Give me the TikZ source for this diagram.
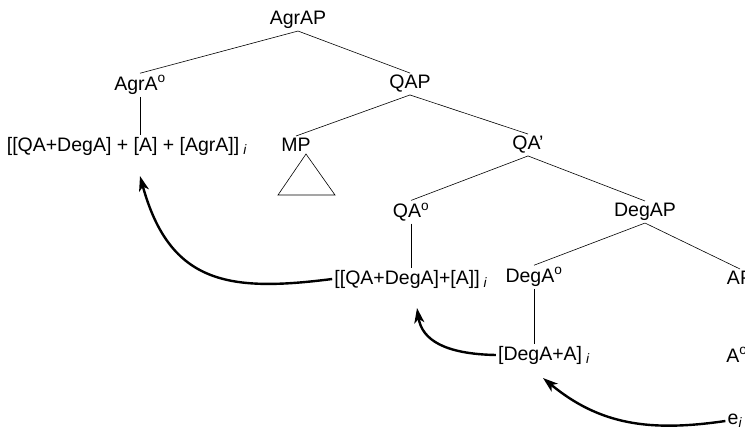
\documentclass[tikz,border=0pt]{standalone}
\usepackage{fontspec}
\setmainfont{Liberation Sans}
\usetikzlibrary{arrows.meta}

\newcommand{\hd}{\textsuperscript{o}}
\newcommand{\idx}{\hspace{4pt}\textsubscript{\textit{i}}}

\begin{document}
\begin{tikzpicture}[x=1pt,y=-1pt,line width=0.6pt,
                    every node/.style={inner sep=2pt,font=\fontsize{19.5}{23}\selectfont},
                    mv/.style={line width=2.4pt,-{Stealth[length=15pt,width=10pt,inset=4pt]}}]
  \clip (0,0) rectangle (745,432);
  % tree
  \node (AgrAP) at (298,20)  {AgrAP};
  \node (AgrA0) at (140,85)  {AgrA\hd};
  \node (QAP)   at (410,84)  {QAP};
  \node (lbl1)  at (127,146) {[[QA+DegA] + [A] + [AgrA]]\idx};
  \node (MP)    at (296,145) {MP};
  \node (QA1)   at (528,145) {QA’};
  \node (QA0)   at (411,212) {QA\hd};
  \node (DegAP) at (645,212) {DegAP};
  \node (lbl2)  at (411,279) {[[QA+DegA]+[A]]\idx};
  \node (DegA0) at (534,277) {DegA\hd};
  \node (AP)    at (740,278) {AP};
  \node (lbl3)  at (544,355) {[DegA+A]\idx};
  \node (A0)    at (737,355) {A\hd};
  \node (ei)    at (735,421) {e\textsubscript{\textit{i}}};
  \draw (AgrAP.south) -- (AgrA0.north);
  \draw (AgrAP.south) -- (QAP.north);
  \draw (AgrA0.south) -- (AgrA0.south |- lbl1.north);
  \draw (QAP.south) -- (MP.north);
  \draw (QAP.south) -- (QA1.north);
  \draw ([xshift=10pt]MP.south) -- ++(-28,41) -- ++(57,0) -- cycle;
  \draw (QA1.south) -- (QA0.north);
  \draw (QA1.south) -- (DegAP.north);
  \draw (QA0.south) -- (QA0.south |- lbl2.north);
  \draw (DegAP.south) -- (DegA0.north);
  \draw (DegAP.south) -- (AP.north);
  \draw (DegA0.south) -- (DegA0.south |- lbl3.north);
  % movement
  \coordinate (t1) at (140,176);
  \coordinate (t2) at (417,308);
  \coordinate (t3) at (543,378);
  \draw[mv] (lbl2.west) .. controls (230,292) and (170,285) .. (t1);
  \draw[mv] (lbl3.west) .. controls (445,354) and (422,340) .. (t2);
  \draw[mv] (ei.west) .. controls (650,432) and (600,425) .. (t3);
\end{tikzpicture}
\end{document}
